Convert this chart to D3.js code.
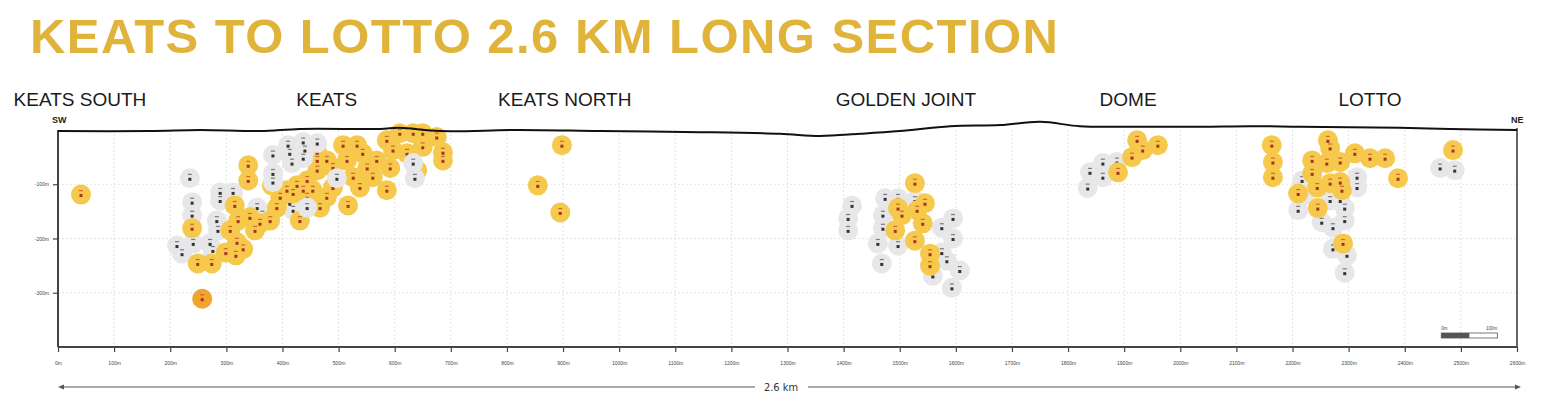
<!DOCTYPE html>
<html>
<head>
<meta charset="utf-8">
<script src="https://cdn.jsdelivr.net/npm/d3@7"></script>
<style>
  body { margin: 0; background: #fff; }
  svg { display: block; font-family: "Liberation Sans", Arial, sans-serif; }
</style>
</head>
<body>
<div id="root"></div>
<script>
// --- data (metres) ---
const TITLE = "KEATS TO LOTTO 2.6 KM LONG SECTION";

const zoneNames = ["KEATS SOUTH", "KEATS", "KEATS NORTH", "GOLDEN JOINT", "DOME", "LOTTO"];
const zoneCentres = [39, 479, 903, 1511, 1907, 2338];

const distTicks = [0, 100, 200, 300, 400, 500, 600, 700, 800, 900, 1000, 1100, 1200, 1300,
  1400, 1500, 1600, 1700, 1800, 1900, 2000, 2100, 2200, 2300, 2400, 2500, 2600];
const depthTicks = [-100, -200, -300];

// topography profile (distance, elevation relative to datum)
const terrainDist = [0, 164, 253, 360, 431, 574, 609, 681, 823, 966, 1144, 1287, 1358, 1429,
  1500, 1590, 1679, 1750, 1821, 1892, 2035, 2124, 2213, 2391, 2481, 2600];
const terrainElev = [-2, -2, 0, -2, 2, 2, 4, -2, 0, -2, -4, -7, -11, -7,
  -2, 7, 9, 15, 7, 6, 6, 7, 6, 4, 2, 0];

// low grade / barren intercepts [distance, depth]
const lowHoles = [
  [235,-89],[239,-133],[239,-157],[212,-213],[221,-228],[241,-209],[289,-115],[289,-130],
  [312,-115],[283,-167],[285,-185],[271,-209],[276,-222],[274,-237],[355,-143],[364,-157],
  [419,-148],[413,-135],
  [1415,-139],[1408,-163],[1408,-185],[1474,-126],[1470,-157],[1470,-181],[1461,-209],
  [1468,-246],[1497,-126],[1497,-213],[1527,-130],[1595,-163],[1575,-180],[1595,-200],
  [1575,-226],[1584,-241],[1607,-259],[1559,-269],[1593,-291],
  [1839,-78],[1862,-61],[1862,-87],[1887,-59],[1835,-107],
  [2217,-93],[2222,-120],[2210,-148],[2315,-87],[2315,-106],[2267,-130],[2285,-130],
  [2293,-144],[2293,-167],[2252,-170],[2272,-180],[2272,-219],[2297,-231],[2293,-263],
  [2463,-70],[2489,-74]
];

// low grade holes that show through the Keats high grade shell
const lowHolesInShell = [
  [383,-46],[383,-80],[383,-96],[410,-28],[413,-43],[417,-61],[437,-22],[440,-37],
  [437,-52],[462,-24],[444,-143],[497,-89],[633,-61],[636,-89]
];

// gold intercepts [distance, depth]
const highHoles = [
  [41,-119],
  [339,-65],[339,-93],[239,-181],[249,-246],[274,-246],[299,-226],[317,-231],[315,-139],
  [321,-167],[307,-185],[319,-207],[330,-219],[342,-161],[351,-185],[360,-172],[378,-167],
  [390,-143],[396,-124],[381,-102],[408,-111],[426,-102],[437,-111],[431,-167],[444,-93],
  [462,-74],[462,-56],[462,-41],[479,-56],[490,-106],[479,-124],[467,-143],[454,-111],
  [444,-124],[517,-139],[508,-28],[533,-28],[543,-43],[515,-56],[526,-87],[538,-106],
  [568,-56],[586,-19],[597,-37],[586,-111],[592,-70],[609,-6],[633,-6],[650,-6],[675,-13],
  [686,-41],[686,-56],[622,-43],[650,-31],[640,-74],[561,-87],[551,-70],[490,-69],[419,-117],
  [898,-28],[855,-102],[895,-152],
  [1527,-98],[1497,-144],[1504,-157],[1531,-148],[1545,-135],[1541,-172],[1492,-185],
  [1527,-204],[1554,-228],[1554,-250],
  [1923,-19],[1933,-37],[1914,-50],[1889,-78],[1960,-28],
  [2163,-28],[2165,-59],[2165,-87],[2263,-19],[2267,-33],[2235,-56],[2261,-61],[2285,-59],
  [2311,-43],[2338,-52],[2365,-52],[2388,-89],[2486,-37],[2235,-80],[2244,-106],[2210,-117],
  [2245,-144],[2267,-98],[2285,-96],[2288,-111],[2290,-209]
];

// bonanza intercept
const topHoles = [[257,-311]];

// --- layout ---
const W = 1545, H = 397;
const plotL = 58, plotR = 1517, plotT = 130, plotB = 347;

const svg = d3.select("#root").append("svg")
  .attr("width", W).attr("height", H);

svg.append("rect").attr("width", W).attr("height", H).attr("fill", "#fff");

const x = d3.scaleLinear().domain([0, 2600]).range([plotL, plotR]);
const y = d3.scaleLinear().domain([0, -400]).range([plotT, plotB]);

// title
svg.append("text")
  .attr("x", 30).attr("y", 53)
  .attr("font-size", 49).attr("font-weight", "bold")
  .attr("textLength", 1028).attr("lengthAdjust", "spacing")
  .attr("fill", "#E0B43B")
  .text(TITLE);

// zone names
svg.append("g").selectAll("text")
  .data(zoneNames)
  .enter().append("text")
  .attr("x", (d, i) => x(zoneCentres[i]))
  .attr("y", 106)
  .attr("text-anchor", "middle")
  .attr("font-size", 19)
  .attr("fill", "#1a1a1a")
  .text(d => d);

// gridlines
const grid = svg.append("g");
grid.selectAll("line.v")
  .data(distTicks.slice(1, -1))
  .enter().append("line")
  .attr("x1", d => x(d)).attr("x2", d => x(d))
  .attr("y1", plotT).attr("y2", plotB)
  .attr("stroke", "#d9d9d9").attr("stroke-width", 0.8)
  .attr("stroke-dasharray", "2,2");
grid.selectAll("line.h")
  .data(depthTicks)
  .enter().append("line")
  .attr("x1", plotL).attr("x2", plotR)
  .attr("y1", d => y(d)).attr("y2", d => y(d))
  .attr("stroke", "#dedede").attr("stroke-width", 0.8)
  .attr("stroke-dasharray", "2,2");

// drill intercepts
const holes = svg.append("g");
function drawHoles(data, fill, mark) {
  const g = holes.append("g");
  g.selectAll("circle")
    .data(data)
    .enter().append("circle")
    .attr("cx", d => x(d[0]))
    .attr("cy", d => y(d[1]))
    .attr("r", 10)
    .attr("fill", fill);
  // little hole symbol + label stub
  g.selectAll("rect.m")
    .data(data)
    .enter().append("rect")
    .attr("x", d => x(d[0]) - 1.5)
    .attr("y", d => y(d[1]) - 0.5)
    .attr("width", 3).attr("height", 3)
    .attr("fill", mark);
  g.selectAll("rect.l")
    .data(data)
    .enter().append("rect")
    .attr("x", d => x(d[0]) - 2)
    .attr("y", d => y(d[1]) - 4.5)
    .attr("width", 4).attr("height", 1.2)
    .attr("fill", mark).attr("opacity", 0.6);
}
drawHoles(lowHoles, "#e7e7e9", "#333");
drawHoles(highHoles, "#f6c94c", "#a8321e");
drawHoles(lowHolesInShell, "#e7e7e9", "#333");
drawHoles(topHoles, "#f0a52c", "#c0281c");

// frame
svg.append("line")
  .attr("x1", plotR).attr("x2", plotR).attr("y1", 128).attr("y2", plotB)
  .attr("stroke", "#333").attr("stroke-width", 1.5);

// y axis
const yAxis = svg.append("g")
  .attr("transform", `translate(${plotL},0)`)
  .call(d3.axisLeft(y).tickValues(depthTicks).tickSize(5).tickFormat(d => d + "m"));
yAxis.select(".domain").attr("d", `M0,${plotT}V${plotB}`).attr("stroke", "#444").attr("stroke-width", 2);
yAxis.selectAll(".tick line").attr("stroke", "#444").attr("stroke-width", 1.2);
yAxis.selectAll("text").attr("font-size", 5).attr("fill", "#444").attr("x", -9);

// x axis
const xAxis = svg.append("g")
  .attr("transform", `translate(0,${plotB})`)
  .call(d3.axisBottom(x).tickValues(distTicks).tickSize(5).tickFormat(d => d + "m"));
xAxis.select(".domain").attr("d", `M${plotL},0H${plotR}`).attr("stroke", "#444").attr("stroke-width", 2);
xAxis.selectAll(".tick line").attr("stroke", "#444").attr("stroke-width", 1.2);
xAxis.selectAll("text").attr("font-size", 5).attr("fill", "#444").attr("y", 14);

// topography
const topo = d3.line()
  .x(d => x(d[0]))
  .y(d => y(d[1]))
  .curve(d3.curveCatmullRom);
svg.append("path")
  .datum(terrainDist.map((d, i) => [d, terrainElev[i]]))
  .attr("d", topo)
  .attr("fill", "none")
  .attr("stroke", "#111")
  .attr("stroke-width", 2);

svg.append("text").attr("x", x(0) - 6).attr("y", 123)
  .attr("font-size", 9).attr("font-weight", "bold").attr("fill", "#222").text("SW");
svg.append("text").attr("x", x(2600) - 6).attr("y", 123)
  .attr("font-size", 9).attr("font-weight", "bold").attr("fill", "#222").text("NE");

// scale bar
const sb = svg.append("g");
const sb0 = 2465, sb1 = 2565;
sb.append("rect").attr("x", x(sb0)).attr("y", 333)
  .attr("width", x(sb1) - x(sb0)).attr("height", 5)
  .attr("fill", "#fff").attr("stroke", "#555").attr("stroke-width", 0.8);
sb.append("rect").attr("x", x(sb0)).attr("y", 333)
  .attr("width", (x(sb1) - x(sb0)) / 2).attr("height", 5)
  .attr("fill", "#555");
sb.append("text").attr("x", x(sb0)).attr("y", 330).attr("font-size", 4.5).attr("fill", "#444").text("0m");
sb.append("text").attr("x", x(sb1)).attr("y", 330).attr("font-size", 4.5).attr("fill", "#444")
  .attr("text-anchor", "end").text("100m");

// 2.6 km dimension line
const dimY = 387;
svg.append("line").attr("x1", x(0) + 4).attr("x2", 755).attr("y1", dimY).attr("y2", dimY)
  .attr("stroke", "#555").attr("stroke-width", 1);
svg.append("line").attr("x1", 808).attr("x2", x(2600)).attr("y1", dimY).attr("y2", dimY)
  .attr("stroke", "#555").attr("stroke-width", 1);
svg.append("path")
  .attr("d", `M${x(0)},${dimY}l6,-2.5v5z`)
  .attr("fill", "#555");
svg.append("path")
  .attr("d", `M${x(2600) + 4},${dimY}l-6,-2.5v5z`)
  .attr("fill", "#555");
svg.append("text").attr("x", 781).attr("y", dimY + 4)
  .attr("text-anchor", "middle")
  .attr("font-family", "'DejaVu Sans Condensed', sans-serif")
  .attr("font-size", 11).attr("fill", "#333").text("2.6 km");
</script>
</body>
</html>
